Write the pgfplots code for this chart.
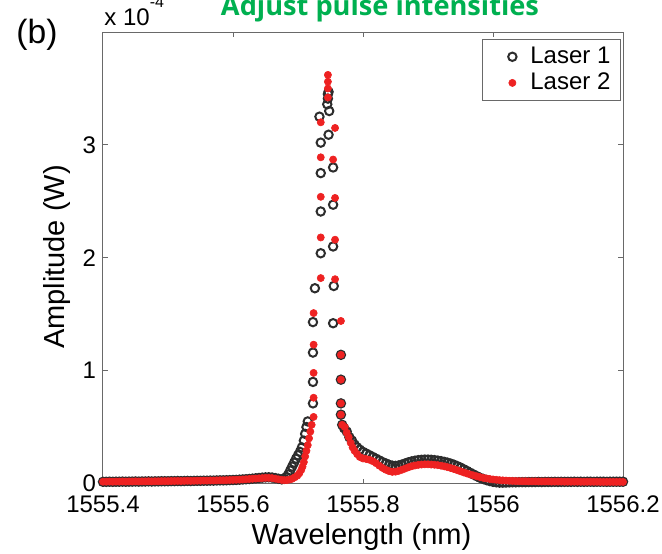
\documentclass[border=0pt]{standalone}
\usepackage{fontspec}
\setmainfont{Liberation Sans}
\newfontfamily\titlefont{Open Sans}
\usepackage{pgfplots}
\pgfplotsset{compat=1.18}
\usepackage{pgfplotstable}

\definecolor{axisgray}{RGB}{105,105,105}
\definecolor{laserone}{RGB}{45,45,45}
\definecolor{lasertwo}{RGB}{238,34,34}
\definecolor{titlegreen}{RGB}{0,176,80}

% Spectra, amplitude in units of 1e-4 W
\pgfplotstableread{
lambda amp
1555.400 0.015
1555.405 0.015
1555.410 0.016
1555.415 0.015
1555.420 0.016
1555.425 0.016
1555.430 0.017
1555.435 0.016
1555.440 0.017
1555.445 0.017
1555.450 0.018
1555.455 0.017
1555.460 0.018
1555.465 0.018
1555.470 0.019
1555.475 0.018
1555.480 0.019
1555.485 0.019
1555.490 0.020
1555.495 0.020
1555.500 0.020
1555.505 0.021
1555.510 0.021
1555.515 0.022
1555.520 0.021
1555.525 0.022
1555.530 0.023
1555.535 0.022
1555.540 0.023
1555.545 0.024
1555.550 0.024
1555.555 0.025
1555.560 0.025
1555.565 0.026
1555.570 0.026
1555.575 0.027
1555.580 0.028
1555.585 0.028
1555.590 0.029
1555.595 0.030
1555.600 0.031
1555.605 0.032
1555.610 0.034
1555.615 0.036
1555.620 0.038
1555.625 0.040
1555.630 0.043
1555.635 0.046
1555.640 0.049
1555.645 0.052
1555.650 0.054
1555.655 0.055
1555.660 0.053
1555.665 0.048
1555.670 0.042
1555.675 0.037
1555.679 0.042
1555.682 0.058
1555.685 0.080
1555.688 0.115
1555.691 0.150
1555.694 0.185
1555.697 0.220
1555.700 0.250
1555.703 0.280
1555.706 0.320
1555.709 0.380
1555.711 0.440
1555.713 0.500
1555.715 0.550
1555.723 0.710
1555.723 0.900
1555.723 1.160
1555.723 1.430
1555.726 1.730
1555.735 2.040
1555.735 2.410
1555.735 2.750
1555.735 3.020
1555.733 3.250
1555.745 3.360
1555.746 3.410
1555.746 3.450
1555.747 3.470
1555.748 3.300
1555.747 3.090
1555.754 2.800
1555.754 2.470
1555.754 2.100
1555.755 1.750
1555.754 1.420
1555.766 1.140
1555.766 0.920
1555.766 0.710
1555.766 0.610
1555.768 0.520
1555.771 0.490
1555.775 0.460
1555.779 0.410
1555.783 0.380
1555.787 0.345
1555.791 0.320
1555.795 0.300
1555.800 0.280
1555.805 0.265
1555.810 0.250
1555.815 0.235
1555.820 0.220
1555.825 0.205
1555.830 0.190
1555.835 0.178
1555.840 0.166
1555.845 0.158
1555.850 0.156
1555.855 0.160
1555.860 0.168
1555.865 0.178
1555.870 0.188
1555.875 0.196
1555.880 0.202
1555.885 0.207
1555.890 0.210
1555.895 0.212
1555.900 0.212
1555.905 0.210
1555.910 0.207
1555.915 0.203
1555.920 0.198
1555.925 0.192
1555.930 0.185
1555.935 0.176
1555.940 0.166
1555.945 0.154
1555.950 0.141
1555.955 0.126
1555.960 0.111
1555.965 0.095
1555.970 0.080
1555.975 0.065
1555.980 0.051
1555.985 0.040
1555.990 0.030
1555.995 0.022
1556.000 0.015
1556.005 0.011
1556.010 0.008
1556.015 0.008
1556.020 0.009
1556.025 0.010
1556.030 0.011
1556.035 0.011
1556.040 0.012
1556.045 0.012
1556.050 0.012
1556.055 0.013
1556.060 0.013
1556.065 0.013
1556.070 0.014
1556.075 0.013
1556.080 0.014
1556.085 0.014
1556.090 0.014
1556.095 0.015
1556.100 0.014
1556.105 0.015
1556.110 0.015
1556.115 0.015
1556.120 0.015
1556.125 0.016
1556.130 0.015
1556.135 0.016
1556.140 0.015
1556.145 0.016
1556.150 0.016
1556.155 0.015
1556.160 0.016
1556.165 0.016
1556.170 0.016
1556.175 0.015
1556.180 0.016
1556.185 0.016
1556.190 0.016
1556.195 0.016
1556.200 0.016
}\laserone

\pgfplotstableread{
lambda amp
1555.400 0.016
1555.405 0.016
1555.410 0.017
1555.415 0.016
1555.420 0.017
1555.425 0.017
1555.430 0.018
1555.435 0.017
1555.440 0.018
1555.445 0.018
1555.450 0.019
1555.455 0.018
1555.460 0.019
1555.465 0.019
1555.470 0.020
1555.475 0.019
1555.480 0.020
1555.485 0.020
1555.490 0.021
1555.495 0.021
1555.500 0.021
1555.505 0.022
1555.510 0.022
1555.515 0.023
1555.520 0.022
1555.525 0.023
1555.530 0.024
1555.535 0.023
1555.540 0.024
1555.545 0.025
1555.550 0.025
1555.555 0.026
1555.560 0.026
1555.565 0.027
1555.570 0.027
1555.575 0.028
1555.580 0.029
1555.585 0.029
1555.590 0.030
1555.595 0.031
1555.600 0.032
1555.605 0.033
1555.610 0.034
1555.615 0.036
1555.620 0.038
1555.625 0.040
1555.630 0.042
1555.635 0.044
1555.640 0.046
1555.645 0.048
1555.650 0.050
1555.655 0.050
1555.660 0.048
1555.665 0.043
1555.670 0.037
1555.675 0.032
1555.679 0.030
1555.683 0.030
1555.687 0.035
1555.691 0.042
1555.695 0.055
1555.699 0.070
1555.702 0.090
1555.705 0.120
1555.707 0.150
1555.709 0.190
1555.711 0.240
1555.713 0.290
1555.715 0.340
1555.717 0.400
1555.719 0.460
1555.721 0.520
1555.724 0.590
1555.724 0.760
1555.724 0.980
1555.724 1.230
1555.724 1.510
1555.735 1.820
1555.735 2.180
1555.735 2.540
1555.735 2.890
1555.735 3.200
1555.746 3.420
1555.746 3.500
1555.746 3.560
1555.746 3.620
1555.757 3.150
1555.754 2.870
1555.757 2.530
1555.757 2.160
1555.757 1.810
1555.766 1.440
1555.766 1.140
1555.766 0.920
1555.766 0.710
1555.766 0.610
1555.768 0.520
1555.772 0.500
1555.775 0.450
1555.778 0.410
1555.781 0.360
1555.784 0.320
1555.787 0.290
1555.791 0.260
1555.795 0.235
1555.800 0.222
1555.805 0.217
1555.810 0.210
1555.815 0.198
1555.820 0.180
1555.825 0.158
1555.830 0.138
1555.835 0.122
1555.840 0.110
1555.845 0.103
1555.850 0.105
1555.855 0.112
1555.860 0.122
1555.865 0.133
1555.870 0.144
1555.875 0.153
1555.880 0.160
1555.885 0.165
1555.890 0.168
1555.895 0.170
1555.900 0.170
1555.905 0.168
1555.910 0.166
1555.915 0.163
1555.920 0.158
1555.925 0.152
1555.930 0.145
1555.935 0.137
1555.940 0.128
1555.945 0.118
1555.950 0.108
1555.955 0.098
1555.960 0.089
1555.965 0.080
1555.970 0.072
1555.975 0.064
1555.980 0.057
1555.985 0.050
1555.990 0.045
1555.995 0.040
1556.000 0.036
1556.005 0.033
1556.010 0.030
1556.015 0.028
1556.020 0.026
1556.025 0.024
1556.030 0.023
1556.035 0.022
1556.040 0.021
1556.045 0.020
1556.050 0.020
1556.055 0.019
1556.060 0.019
1556.065 0.019
1556.070 0.018
1556.075 0.018
1556.080 0.018
1556.085 0.018
1556.090 0.017
1556.095 0.017
1556.100 0.017
1556.105 0.017
1556.110 0.016
1556.115 0.016
1556.120 0.016
1556.125 0.016
1556.130 0.016
1556.135 0.015
1556.140 0.015
1556.145 0.015
1556.150 0.015
1556.155 0.015
1556.160 0.015
1556.165 0.014
1556.170 0.014
1556.175 0.014
1556.180 0.014
1556.185 0.014
1556.190 0.014
1556.195 0.014
1556.200 0.014
}\lasertwo

\begin{document}
\begin{tikzpicture}
\begin{axis}[
  at={(0,0)}, anchor=south west,
  scale only axis, width=260pt, height=225.75pt,
  xmin=1555.4, xmax=1556.2, ymin=0, ymax=4,
  xtick={1555.4,1555.6,1555.8,1556,1556.2},
  xticklabels={1555.4,1555.6,1555.8,1556,1556.2},
  ytick={0,1,2,3},
  tick align=inside, major tick length=2.5pt,
  axis line style={axisgray, line width=0.5pt},
  every tick/.style={axisgray, line width=0.5pt},
  ticklabel style={font=\fontsize{12}{14}\selectfont},
  xticklabel style={yshift=-2.5pt},
  /pgf/number format/assume math mode=true,
  xlabel={Wavelength (nm)}, ylabel={Amplitude (W)},
  label style={font=\fontsize{14.5}{17}\selectfont},
  xlabel style={at={(axis description cs:0.497,-0.119)}, anchor=center},
  ylabel style={at={(axis description cs:-0.0885,0.5017)}, anchor=center},
  legend cell align=left,
  legend image code/.code={%
    \path[draw=none, fill=none] (-12pt,-0.1pt) rectangle (7pt,0.1pt);
    \draw[#1] plot coordinates {(0pt,0pt)};},
  legend style={at={(axis description cs:0.996,0.9856)}, anchor=north east,
    draw=axisgray, line width=0.5pt, font=\fontsize{12}{14}\selectfont,
    inner xsep=3pt, inner ysep=2pt, row sep=-0.75pt},
]
\addplot[only marks, mark=o, mark size=2.1pt, color=laserone,
  mark options={line width=1pt}] table[x=lambda, y=amp] {\laserone};
\addlegendentry{Laser 1}
\addplot[only marks, mark=*, mark size=1.8pt, color=lasertwo,
  mark options={line width=0.3pt, fill=lasertwo}] table[x=lambda, y=amp] {\lasertwo};
\addlegendentry{Laser 2}
\end{axis}
\node[font=\fontsize{16.8}{19}\selectfont] at (-33pt,224.25pt) {(b)};
\node[anchor=base west, inner sep=0pt, font=\fontsize{12}{14}\selectfont] at (0.5pt,229.25pt)
  {x 10\raisebox{0.75em}{\fontsize{8}{9}\selectfont -4}};
\node[anchor=base, inner sep=0pt, text=titlegreen, font=\titlefont\bfseries\fontsize{13.6}{16}\selectfont]
  at (138.5pt,234.25pt) {Adjust pulse intensities};
\pgfresetboundingbox
\useasboundingbox (-51.5pt,-34.75pt) rectangle (279.5pt,241.75pt);
\end{tikzpicture}
\end{document}
